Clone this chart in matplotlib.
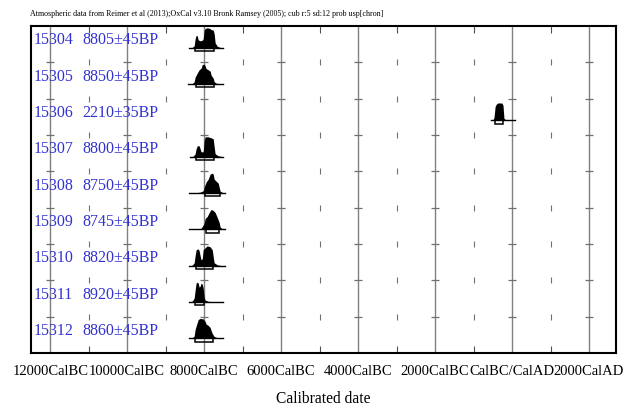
import numpy as np
import matplotlib.pyplot as plt
from matplotlib.patches import Rectangle

plt.rcParams['font.family'] = ['Liberation Serif', 'DejaVu Serif']

# lab codes and radiocarbon determinations, top to bottom
lab_codes = ["15304", "15305", "15306", "15307", "15308",
             "15309", "15310", "15311", "15312"]
c14_dates = ["8805±45BP", "8850±45BP", "2210±35BP", "8800±45BP", "8750±45BP",
             "8745±45BP", "8820±45BP", "8920±45BP", "8860±45BP"]

# calibrated probability curves (cal year, relative probability)
yr_15304 = [-8390, -8310, -8260, -8235, -8210, -8180, -8155, -8105, -8050, -8025,
            -8000, -7975, -7920, -7870, -7820, -7765, -7740, -7715, -7660, -7585, -7505]
p_15304 = [0, 0.02, 0.1, 0.45, 0.62, 0.6, 0.4, 0.35, 0.38, 0.45,
           0.85, 0.97, 1.0, 0.98, 0.92, 0.88, 0.7, 0.25, 0.08, 0.02, 0]

yr_15305 = [-8415, -8310, -8260, -8235, -8180, -8130, -8080, -8050, -8000, -7975,
            -7950, -7895, -7845, -7820, -7765, -7740, -7690, -7610, -7505]
p_15305 = [0, 0.03, 0.12, 0.35, 0.55, 0.72, 0.8, 0.98, 1.0, 0.92,
           0.78, 0.72, 0.65, 0.45, 0.3, 0.12, 0.05, 0.02, 0]

yr_15306 = [-550, -495, -470, -440, -415, -390, -365, -260, -235, -210, -155, 80]
p_15306 = [0, 0.03, 0.15, 0.7, 0.8, 0.85, 0.88, 0.87, 0.75, 0.1, 0.03, 0]

yr_15307 = [-8365, -8285, -8235, -8210, -8180, -8130, -8105, -8080, -8025, -8000,
            -7975, -7895, -7820, -7765, -7740, -7715, -7635, -7505]
p_15307 = [0, 0.03, 0.15, 0.4, 0.55, 0.55, 0.4, 0.25, 0.25, 0.8,
           1.0, 1.0, 0.95, 0.9, 0.5, 0.15, 0.05, 0]

yr_15308 = [-8390, -8235, -8105, -8025, -8000, -7950, -7895, -7845, -7790, -7765,
            -7740, -7690, -7635, -7610, -7585, -7530, -7455]
p_15308 = [0, 0.02, 0.05, 0.12, 0.3, 0.55, 0.7, 0.95, 1.0, 0.95,
           0.7, 0.6, 0.5, 0.3, 0.1, 0.04, 0]

yr_15309 = [-8390, -8210, -8080, -8000, -7975, -7920, -7870, -7820, -7765, -7715,
            -7660, -7610, -7585, -7530, -7455]
p_15309 = [0, 0.02, 0.06, 0.3, 0.55, 0.65, 0.85, 1.0, 0.95, 0.85,
           0.6, 0.35, 0.12, 0.04, 0]

yr_15310 = [-8390, -8310, -8260, -8235, -8210, -8155, -8130, -8105, -8080, -8050,
            -8025, -7975, -7920, -7845, -7790, -7765, -7740, -7660, -7585, -7455]
p_15310 = [0, 0.03, 0.15, 0.5, 0.8, 0.85, 0.75, 0.5, 0.3, 0.35,
           0.8, 0.9, 1.0, 0.95, 0.8, 0.45, 0.15, 0.05, 0.02, 0]

yr_15311 = [-8390, -8310, -8260, -8235, -8210, -8180, -8155, -8130, -8105, -8080,
            -8050, -8025, -8000, -7975, -7895, -7740, -7505]
p_15311 = [0, 0.05, 0.2, 0.6, 0.95, 1.0, 0.95, 0.75, 0.8, 0.95,
           0.9, 0.7, 0.25, 0.1, 0.04, 0.02, 0]

yr_15312 = [-8390, -8310, -8260, -8235, -8180, -8155, -8105, -8025, -7975, -7950,
            -7895, -7845, -7820, -7790, -7740, -7660, -7505]
p_15312 = [0, 0.03, 0.12, 0.45, 0.8, 0.95, 1.0, 0.98, 0.85, 0.72,
           0.65, 0.55, 0.4, 0.25, 0.1, 0.04, 0]

curves = [(yr_15304, p_15304), (yr_15305, p_15305), (yr_15306, p_15306),
          (yr_15307, p_15307), (yr_15308, p_15308), (yr_15309, p_15309),
          (yr_15310, p_15310), (yr_15311, p_15311), (yr_15312, p_15312)]

# 95.4% ranges drawn as brackets under each curve
range_from = [-8235, -8210, -440, -8210, -7975, -7950, -8210, -8235, -8235]
range_to = [-7740, -7740, -235, -7740, -7585, -7610, -7765, -8000, -7765]

major_years = [-12000, -10000, -8000, -6000, -4000, -2000, 0, 2000]
major_labels = ["12000CalBC", "10000CalBC", "8000CalBC", "6000CalBC",
                "4000CalBC", "2000CalBC", "CalBC/CalAD", "2000CalAD"]
minor_years = [-11000, -9000, -7000, -5000, -3000, -1000, 1000]

fig = plt.figure(figsize=(6.26, 4.15), dpi=100)
ax = fig.add_axes([0.0495, 0.1494, 0.9345, 0.7879])
ax.set_xlim(-12500, 2700)
ax.set_ylim(9, 0)

for x in major_years:
    ax.axvline(x, color='#808080', lw=1.0, zorder=1)

# little marks on the row separators
for row in range(1, 9):
    ax.plot(minor_years, [row] * len(minor_years), ls='none', marker='|',
            ms=5, mew=0.8, color='#707070', zorder=2)
    ax.plot(major_years, [row] * len(major_years), ls='none', marker='_',
            ms=6, mew=0.9, color='#707070', zorder=2)

blue = '#3232d2'
height = 0.55
for i, (yrs, p) in enumerate(curves):
    base = i + 0.6
    ax.text(0.005, i + 0.39, lab_codes[i], transform=ax.get_yaxis_transform(),
            color=blue, fontsize=11.5, va='center', ha='left')
    ax.text(0.087, i + 0.39, c14_dates[i], transform=ax.get_yaxis_transform(),
            color=blue, fontsize=11.5, va='center', ha='left')
    yrs = np.array(yrs)
    p = np.array(p)
    ax.fill_between(yrs, base, base - height * p, color='black', lw=0, zorder=3)
    ax.plot([yrs[0], yrs[-1]], [base, base], color='black', lw=1.0, zorder=3)
    ax.add_patch(Rectangle((range_from[i], base), range_to[i] - range_from[i], 0.09,
                           fill=False, edgecolor='black', lw=1.1, zorder=4))

ax.set_xticks(major_years)
ax.set_xticklabels(major_labels, fontsize=10.5)
ax.set_xticks(minor_years, minor=True)
ax.set_yticks([])
ax.tick_params(axis='x', which='major', length=0, pad=9)
ax.tick_params(axis='x', which='minor', direction='in', length=5, width=0.8,
               top=True, color='#505050')
for s in ax.spines.values():
    s.set_linewidth(1.5)

ax.set_xlabel("Calibrated date", fontsize=11.2, labelpad=9)

fig.text(0.048, 0.966, "Atmospheric data from Reimer et al (2013);OxCal v3.10 Bronk Ramsey (2005); "
         "cub r:5 sd:12 prob usp[chron]", fontsize=5.8, va='center', ha='left')

fig.savefig("out.png", dpi=100)
